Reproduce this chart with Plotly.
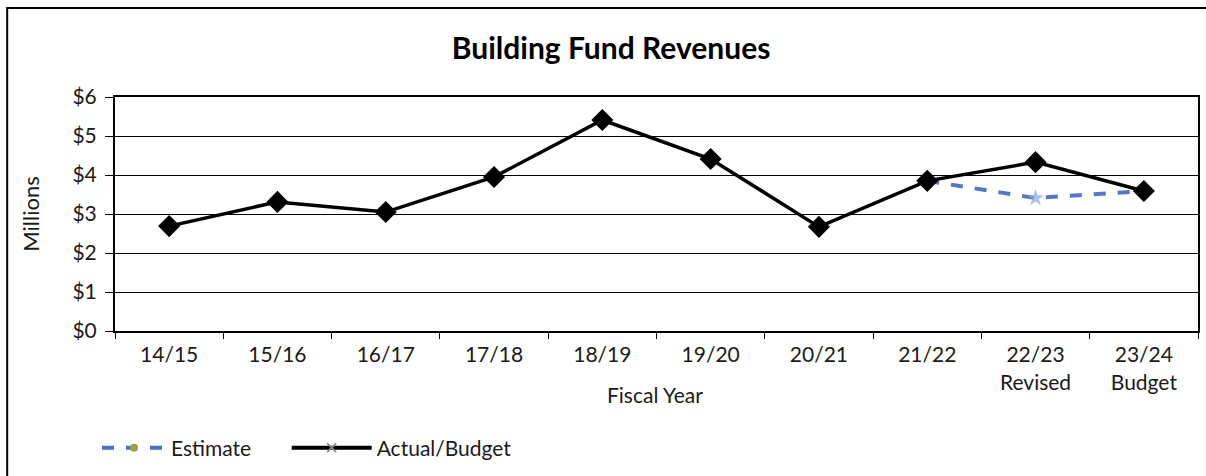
import plotly.graph_objects as go

# Fiscal years on the category axis
years = ["14/15", "15/16", "16/17", "17/18", "18/19", "19/20",
         "20/21", "21/22", "22/23<br>Revised", "23/24<br>Budget"]

# Revenues in millions of dollars
actual_budget = [2.69, 3.31, 3.05, 3.95, 5.41, 4.41, 2.67, 3.85, 4.33, 3.59]
estimate = [None, None, None, None, None, None, None, 3.85, 3.41, 3.59]

y_ticks = [0, 1, 2, 3, 4, 5, 6]
y_tick_text = ["$0", "$1", "$2", "$3", "$4", "$5", "$6"]

FONT = "Lato"

fig = go.Figure()

# Estimate: dashed blue line, drawn underneath the actual series
fig.add_trace(go.Scatter(
    x=years, y=estimate, mode="lines+markers", name="Estimate",
    line=dict(color="#5575c8", width=4, dash="dash"),
    marker=dict(symbol=["circle"] * 8 + ["star", "circle"],
                size=[0] * 8 + [13, 0],
                color="#86a9d8", line=dict(width=0)),
    showlegend=False,
))

# Actual / budget: solid black line with diamond markers
fig.add_trace(go.Scatter(
    x=years, y=actual_budget, mode="lines+markers", name="Actual/Budget",
    line=dict(color="black", width=3.5),
    marker=dict(symbol="diamond", size=17, color="black"),
    showlegend=False,
))

# Legend entries (one legend box each, so they can sit apart)
fig.add_trace(go.Scatter(
    x=[None], y=[None], mode="lines+markers", name="Estimate",
    line=dict(color="#4a72c4", width=4, dash="dash"),
    marker=dict(symbol="circle", size=8, color="#9aa24e"),
    legend="legend",
))
fig.add_trace(go.Scatter(
    x=[None], y=[None], mode="lines+markers", name="Actual/Budget",
    line=dict(color="black", width=4),
    marker=dict(symbol="x-thin", size=9, color="#8a8a8a",
                line=dict(width=1.5, color="#8a8a8a")),
    legend="legend2",
))

L, R, T, B = 115, 6, 97, 145
W, H = 1206, 476
pw, ph = W - L - R, H - T - B


def px_x(px):
    return (px - L) / pw


def px_y(py):
    return (H - B - py) / ph


legend_style = dict(
    orientation="h", xanchor="left", y=px_y(448), yanchor="middle",
    font=dict(family=FONT, size=21), bgcolor="rgba(0,0,0,0)",
)

fig.update_layout(
    width=W, height=H,
    margin=dict(l=L, r=R, t=T, b=B, pad=0),
    paper_bgcolor="white", plot_bgcolor="white",
    font=dict(family=FONT, size=21, color="#1a1a1a"),
    title=dict(text="<b>Building Fund Revenues</b>",
               font=dict(family=FONT, size=30, color="black"),
               x=px_x(612), xanchor="center", xref="paper",
               y=1 - 48 / H, yanchor="middle"),
    xaxis=dict(
        type="category", range=[-0.5, len(years) - 0.5],
        tickson="boundaries",
        ticks="outside", ticklen=6, tickwidth=1, tickcolor="black",
        showgrid=False, showline=True, linecolor="black", linewidth=2,
        mirror=True, tickfont=dict(family=FONT, size=21),
        ticklabelstandoff=4,
    ),
    yaxis=dict(
        range=[0, 6], tickvals=y_ticks, ticktext=y_tick_text,
        ticks="outside", ticklen=8, tickwidth=1, tickcolor="black",
        showgrid=True, gridcolor="black", gridwidth=1,
        showline=True, linecolor="black", linewidth=2, mirror=True,
        zeroline=False, tickfont=dict(family=FONT, size=21),
        ticklabelstandoff=4,
        title=dict(text="Millions", font=dict(family=FONT, size=22),
                   standoff=27),
    ),
    legend=dict(legend_style, x=px_x(97), itemwidth=64),
    legend2=dict(legend_style, x=px_x(287), itemwidth=80),
    annotations=[dict(text="Fiscal Year", xref="paper", yref="paper",
                      x=px_x(656), y=px_y(394), xanchor="center",
                      yanchor="middle", showarrow=False,
                      font=dict(family=FONT, size=21, color="#1a1a1a"))],
    shapes=[dict(type="rect", xref="paper", yref="paper",
                 x0=px_x(7), y0=px_y(490), x1=px_x(1220), y1=px_y(8),
                 line=dict(color="black", width=2), layer="below")],
)

fig.write_html("out.html")
